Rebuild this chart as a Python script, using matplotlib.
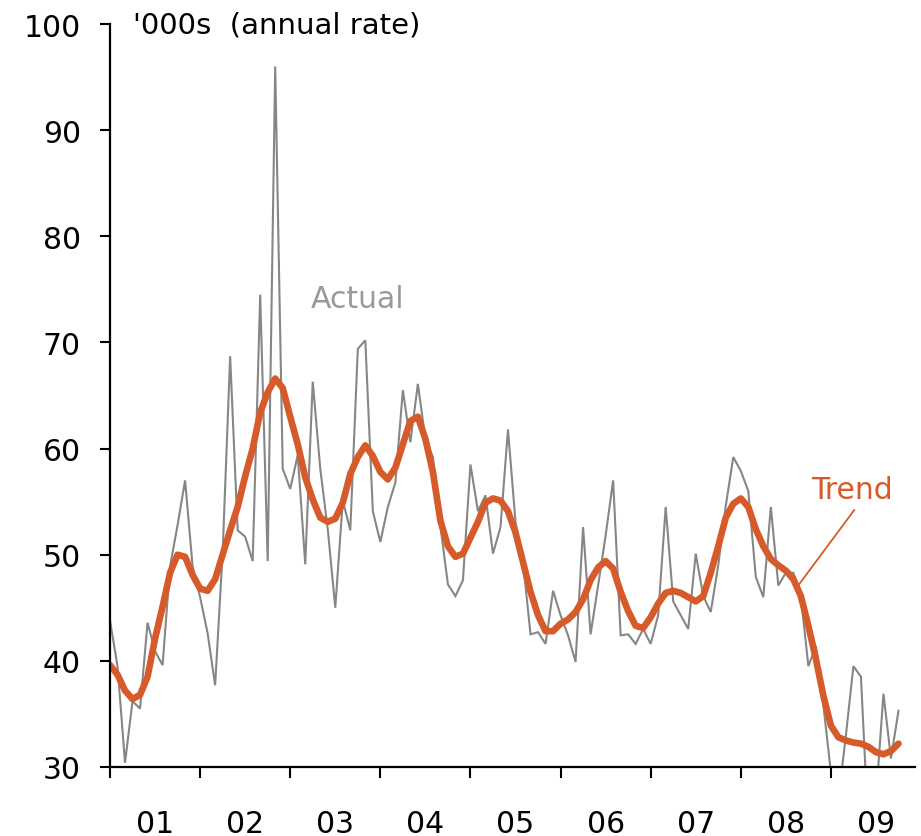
import numpy as np
import matplotlib
matplotlib.use("Agg")
import matplotlib.pyplot as plt

# monthly, Jan 2001 onwards ('000s, annual rate)
actual = [43.8, 39.5, 30.4, 36.2, 35.5, 43.6, 40.9, 39.6, 48.9, 52.8, 57.0, 48.9,
          46.0, 42.6, 37.7, 50.2, 68.7, 52.3, 51.7, 49.4, 74.5, 49.4, 96.0, 58.1,
          56.2, 59.4, 49.1, 66.3, 58.1, 52.4, 45.0, 55.1, 52.3, 69.4, 70.2, 54.1,
          51.2, 54.5, 56.8, 65.5, 60.6, 66.1, 60.9, 59.2, 52.7, 47.2, 46.1, 47.6,
          58.5, 54.1, 55.6, 50.1, 52.6, 61.8, 53.1, 49.3, 42.5, 42.7, 41.6, 46.6,
          44.3, 42.4, 39.9, 52.6, 42.5, 47.1, 51.8, 57.0, 42.4, 42.5, 41.6, 43.0,
          41.6, 44.3, 54.5, 45.6, 44.3, 43.0, 50.1, 46.1, 44.6, 49.0, 54.6, 59.2,
          57.9, 56.0, 47.9, 46.0, 54.5, 47.1, 48.3, 48.3, 46.1, 39.5, 41.4, 35.8,
          29.5, 27.0, 33.0, 39.5, 38.5, 24.0, 27.0, 36.9, 30.8, 35.3]

trend = [39.6, 38.7, 37.2, 36.4, 36.8, 38.5, 42.1, 45.1, 48.3, 50.0, 49.8, 48.1,
         46.8, 46.6, 47.7, 50.0, 52.3, 54.5, 57.4, 60.0, 63.4, 65.3, 66.6, 65.7,
         63.0, 60.4, 57.3, 55.2, 53.5, 53.1, 53.4, 54.9, 57.6, 59.2, 60.3, 59.3,
         57.8, 57.1, 58.2, 60.4, 62.6, 63.0, 60.9, 57.8, 53.2, 50.8, 49.8, 50.1,
         51.6, 53.1, 54.9, 55.3, 55.1, 54.1, 52.1, 49.3, 46.5, 44.3, 42.8, 42.8,
         43.5, 43.9, 44.6, 45.8, 47.6, 48.8, 49.4, 48.7, 46.5, 44.7, 43.3, 43.1,
         44.1, 45.4, 46.4, 46.6, 46.4, 46.0, 45.6, 46.1, 48.3, 50.8, 53.5, 54.8,
         55.3, 54.5, 52.4, 50.8, 49.6, 49.0, 48.5, 47.7, 46.1, 43.3, 40.2, 36.7,
         33.9, 32.8, 32.5, 32.3, 32.2, 31.9, 31.4, 31.2, 31.5, 32.2]

year_labels = ['01', '02', '03', '04', '05', '06', '07', '08', '09']

gray = '#868686'
orange = '#D65A2A'

months = np.arange(len(actual))

fig = plt.figure(figsize=(9.21, 8.37), dpi=100)
ax = fig.add_axes([110 / 921, 69 / 837, 805 / 921, 743 / 837])

ax.plot(months, actual, color=gray, lw=1.5, solid_joinstyle='miter')
ax.plot(months, trend, color=orange, lw=4.8, solid_joinstyle='round',
        solid_capstyle='round')

ax.set_xlim(0, 107.2)
ax.set_ylim(30, 100)

for s in ['top', 'right']:
    ax.spines[s].set_visible(False)
for s in ['left', 'bottom']:
    ax.spines[s].set_linewidth(1.6)

ax.set_yticks(range(30, 101, 10))
ax.tick_params(axis='y', direction='out', length=7, width=1.5, pad=14,
               labelsize=21.5)

ax.set_xticks(np.arange(0, 97, 12))
ax.set_xticklabels([])
ax.set_xticks(np.arange(6, 103, 12), minor=True)
ax.set_xticklabels(year_labels, minor=True)
ax.tick_params(axis='x', which='major', direction='out', length=8, width=1.5)
ax.tick_params(axis='x', which='minor', length=0, pad=30, labelsize=21.5)

ax.text(3.1, 100, "'000s  (annual rate)", fontsize=21, ha='left',
        va='center', clip_on=False)
ax.text(33.0, 74.1, 'Actual', color='#999999', fontsize=21.5,
        ha='center', va='center')
ax.text(98.8, 56.1, 'Trend', color=orange, fontsize=21.5,
        ha='center', va='center')
ax.plot([99.1, 91.65], [54.2, 47.1], color=orange, lw=1.3)

fig.savefig('out.png', dpi=100)
